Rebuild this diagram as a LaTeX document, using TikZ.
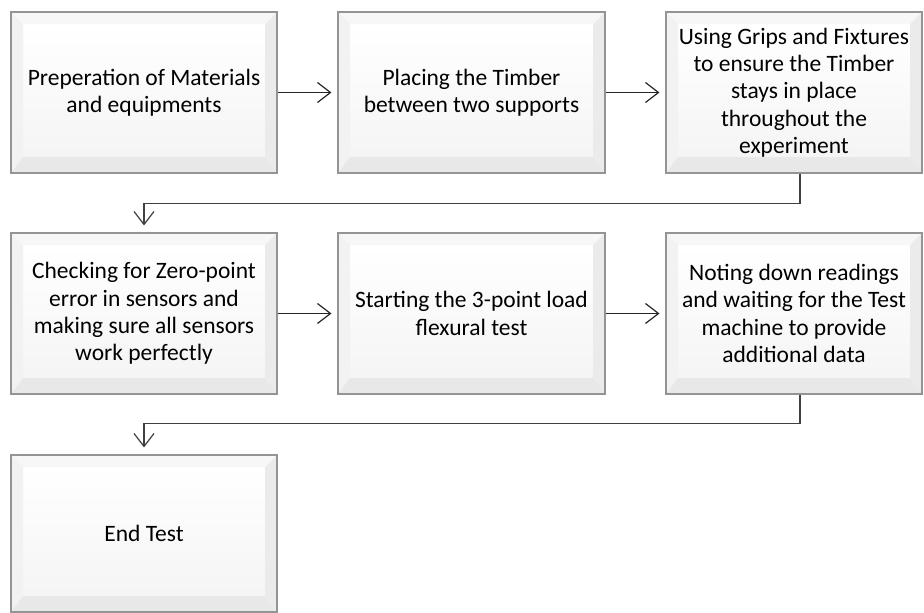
\documentclass[tikz,border=0pt]{standalone}
\usepackage{fontspec}
\setmainfont{Carlito}
\usetikzlibrary{arrows.meta,calc}
\tikzset{
  bevelbox/.style={draw=black!42, line width=1.1pt, fill=white,
    minimum height=161pt, inner sep=0pt, align=center,
    font=\fontsize{23.5}{27.3}\selectfont,
    path picture={
      \coordinate (nw) at (path picture bounding box.north west);
      \coordinate (ne) at (path picture bounding box.north east);
      \coordinate (sw) at (path picture bounding box.south west);
      \coordinate (se) at (path picture bounding box.south east);
      \shade[top color=white, bottom color=black!4] ($(nw)+(12pt,-12pt)$) rectangle ($(se)+(-12pt,16pt)$);
      \fill[black!3] (nw) -- (ne) -- ($(ne)+(-12pt,-12pt)$) -- ($(nw)+(12pt,-12pt)$) -- cycle;
      \fill[black!5] (nw) -- ($(nw)+(12pt,-12pt)$) -- ($(sw)+(12pt,16pt)$) -- (sw) -- cycle;
      \fill[black!8] (ne) -- ($(ne)+(-12pt,-12pt)$) -- ($(se)+(-12pt,16pt)$) -- (se) -- cycle;
      \fill[black!9] (sw) -- ($(sw)+(12pt,16pt)$) -- ($(se)+(-12pt,16pt)$) -- (se) -- cycle;
    }},
  flow/.style={line width=1.2pt, draw=black!85, -{Straight Barb[length=13pt,width=20pt,line width=1.2pt]}},
  elbow/.style={line width=1.2pt, draw=black!75, -{Straight Barb[length=13pt,width=20pt,line width=1.2pt]}}
}
\begin{document}
\begin{tikzpicture}[x=1pt,y=-1pt]
\useasboundingbox (0,0) rectangle (924,613);
\node[bevelbox, minimum width=266pt] (b1) at (144,92.5) {Preperation of Materials\\and equipments};
\node[bevelbox, minimum width=267pt] (b2) at (471.5,92.5) {Placing the Timber\\between two supports};
\node[bevelbox, minimum width=256pt] (b3) at (794,92.5) {Using Grips and Fixtures\\to ensure the Timber\\stays in place\\throughout the\\experiment};
\node[bevelbox, minimum width=266pt] (b4) at (144,313.5) {Checking for Zero-point\\error in sensors and\\making sure all sensors\\work perfectly};
\node[bevelbox, minimum width=267pt] (b5) at (471.5,313.5) {Starting the 3-point load\\flexural test};
\node[bevelbox, minimum width=256pt] (b6) at (794,313.5) {Noting down readings\\and waiting for the Test\\machine to provide\\additional data};
\node[bevelbox, minimum width=266pt, minimum height=157pt] (b7) at (144,533.5) {End Test};
\draw[flow, shorten >=6pt] (b1.east) -- (b2.west);
\draw[flow, shorten >=6pt] (b2.east) -- (b3.west);
\draw[flow, shorten >=6pt] (b4.east) -- (b5.west);
\draw[flow, shorten >=6pt] (b5.east) -- (b6.west);
\draw[elbow, shorten >=7pt] ([xshift=6pt]b3.south) -- ++(0,30) -| (b4.north);
\draw[elbow, shorten >=7pt] ([xshift=6pt]b6.south) -- ++(0,29) -| (b7.north);
\end{tikzpicture}
\end{document}
